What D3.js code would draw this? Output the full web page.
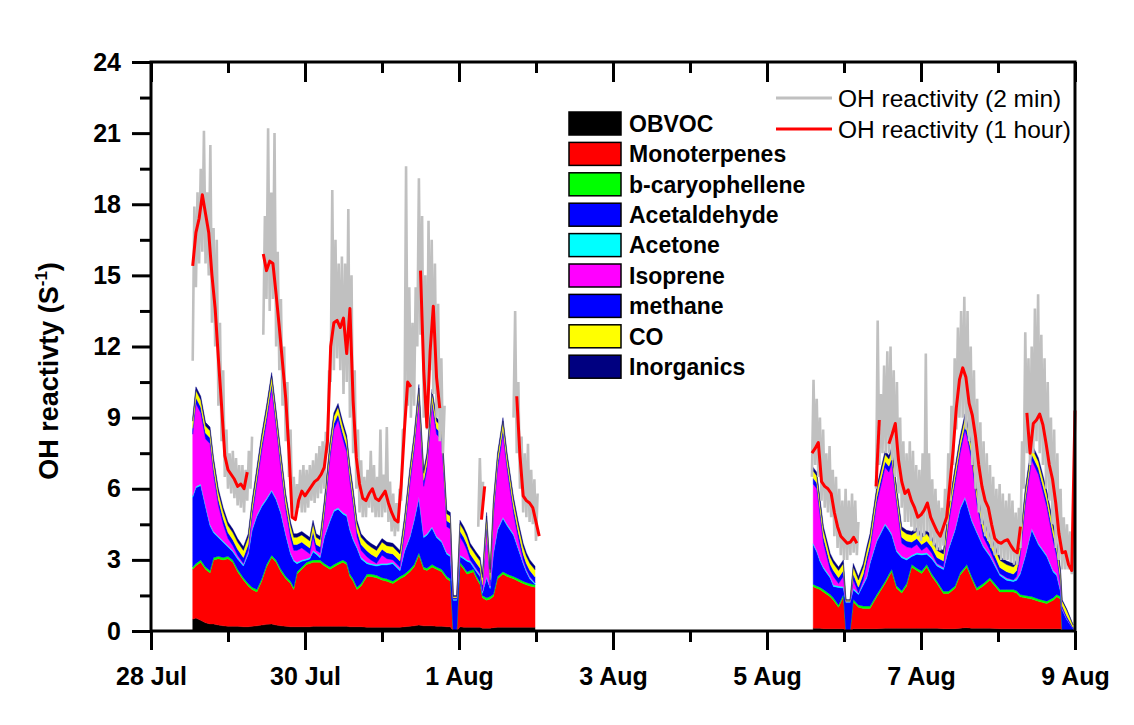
<!DOCTYPE html>
<html>
<head>
<meta charset="utf-8">
<script src="https://cdn.jsdelivr.net/npm/d3@7"></script>
<style>
  body { margin: 0; background: #fff; }
  svg { display: block; font-family: "Liberation Sans", Arial, sans-serif; }
</style>
</head>
<body>
<svg id="chart" width="1134" height="725"></svg>
<script>
// all times are hours after 28 Jul 00:00

// ---- stacked contributions (s-1) ----
const stackHours = [
  13, 14, 15.5, 17, 18.4, 19.5, 21, 22.5, 24, 25.5,
  27, 28.8, 30.3, 31.5, 33, 34.5, 36, 37.6, 39, 40.5,
  42, 43.5, 44.5, 45.5, 47, 48.5, 49.5, 50.5, 51.5, 52.7,
  54, 55.8, 57, 58.3, 59.8, 61, 62, 63, 64.2, 65.5,
  67.3, 68.5, 70.3, 72, 73.5, 75.4, 77.6, 79, 80.7, 82,
  83.5, 85, 86, 87.6, 89, 90.6, 92.2, 93.3, 94.2, 95.3,
  96.3, 97.5, 98.5, 99.5, 100.5, 101.5, 102.6, 103.3, 104.6, 105.7,
  106.7, 108, 109.7, 111, 113, 114.5, 116, 117, 118.1, 119.7,
  206.4, 207.5, 208.5, 209.6, 211.7, 212.7, 214.3, 215.8, 216.6, 217.9,
  218.9, 220.5, 222, 223.1, 224.1, 226.2, 228.8, 230, 230.9, 232.4,
  234, 235.5, 237.1, 238.7, 240.2, 241.8, 243.4, 245, 247, 248.6,
  250.6, 252.2, 253.7, 254.3, 255.8, 257.4, 259.4, 261.5, 264.6, 266.7,
  268.8, 269.8, 270.9, 272.5, 274.5, 276.6, 279.2, 281.2, 282.3, 283.5,
  284, 285.4, 287.4
];
const obvoc = [
  .5, .55, .45, .35, .3, .3, .25, .22, .2, .2,
  .2, .18, .18, .2, .22, .25, .28, .3, .25, .22,
  .2, .18, .18, .18, .18, .18, .18, .2, .2, .2,
  .2, .2, .2, .2, .2, .2, .18, .18, .18, .18,
  .16, .16, .16, .16, .16, .16, .16, .18, .2, .22,
  .25, .22, .22, .22, .2, .2, .18, .18, 0, 0,
  .18, .16, .16, .16, .16, .16, .16, .12, .12, .12,
  .14, .16, .16, .16, .16, .16, .16, .16, .16, .16,
  .12, .12, .12, .1, .1, .1, .1, .1, 0, 0,
  .1, .1, .1, .1, .1, .1, .12, .12, .12, .12,
  .12, .12, .12, .12, .12, .12, .12, .12, .1, .1,
  .1, .12, .14, .14, .12, .12, .12, .12, .1, .1,
  .1, .1, .1, .1, .1, .1, .1, .1, .1, .1,
  0, 0, 0
];
const monoterpenes = [
  2.1, 2.2, 2.45, 2.25, 2.15, 2.7, 2.8, 2.78, 2.85, 2.7,
  2.3, 1.97, 1.72, 1.55, 1.43, 1.85, 2.42, 2.8, 2.65, 2.28,
  2.0, 1.82, 1.57, 2.22, 2.42, 2.62, 2.67, 2.7, 2.7, 2.7,
  2.55, 2.4, 2.5, 2.6, 2.7, 2.6, 2.12, 1.92, 1.57, 1.72,
  2.14, 2.14, 2.09, 1.99, 1.94, 1.84, 2.04, 2.12, 2.3, 2.48,
  2.95, 2.38, 2.33, 2.48, 2.4, 2.3, 2.02, 1.92, 0, 0,
  2.62, 2.44, 2.24, 2.29, 2.34, 2.04, 1.79, 1.28, 1.18, 1.23,
  1.31, 2.04, 2.24, 2.14, 2.04, 1.94, 1.84, 1.79, 1.74, 1.69,
  1.75, 1.68, 1.63, 1.55, 1.34, 1.2, .9, 1.34, 0, 0,
  1.13, .9, .85, .85, .85, 1.34, 1.88, 2.18, 2.38, 1.68,
  1.48, 1.78, 2.58, 2.43, 2.31, 2.58, 2.18, 1.88, 1.48, 1.48,
  1.7, 2.24, 2.46, 2.56, 2.08, 1.6, 1.78, 2.03, 1.55, 1.55,
  1.55, 1.5, 1.34, 1.3, 1.25, 1.15, 1.06, 1.2, 1.34, 1.25,
  0, 0, 0
];
const bCaryophellene = [
  .1, .1, .1, .1, .1, .1, .1, .1, .1, .1,
  .1, .1, .1, .1, .1, .1, .1, .1, .1, .1,
  .1, .1, .1, .1, .1, .1, .1, .1, .1, .1,
  .1, .1, .1, .1, .1, .1, .1, .1, .1, .1,
  .1, .1, .1, .1, .1, .1, .1, .1, .1, .1,
  .1, .1, .1, .1, .1, .1, .1, .1, 0, 0,
  .1, .1, .1, .1, .1, .1, .1, .1, .1, .1,
  .1, .1, .1, .1, .1, .1, .1, .1, .1, .1,
  .1, .1, .1, .1, .1, .1, .1, .1, 0, 0,
  .1, .1, .1, .1, .1, .1, .1, .1, .1, .1,
  .1, .1, .1, .1, .1, .1, .1, .1, .1, .1,
  .1, .1, .1, .1, .1, .1, .1, .1, .1, .1,
  .1, .1, .1, .1, .1, .1, .1, .1, .1, .1,
  0, 0, 0
];
const acetaldehyde = [
  2.94, 3.19, 3.14, 2.54, 1.89, 1.04, .79, .64, .39, .34,
  .44, .49, 1.24, 2.39, 3.09, 3.04, 2.74, 2.69, 2.54, 2.34,
  1.74, 1.14, 1.09, .34, .24, .09, .09, .34, .24, .09,
  1.09, 1.94, 2.24, 2.24, 1.94, 1.94, 1.84, 1.64, 1.64, 1.04,
  .44, .39, .39, .54, .59, .74, .24, .94, 1.34, 1.84,
  2.29, 1.24, 1.39, 1.54, 1.24, 1.14, .94, .94, 1.3, 1.3,
  .24, .34, .44, .34, .09, .19, .24, .09, .84, .34,
  1.69, 1.94, 2.24, 2.04, 1.74, 1.24, .74, .44, .19, .02,
  1.67, 1.44, 1.09, .89, .7, .48, .74, .27, 1.2, 1.2,
  .41, .44, .89, 1.19, 1.79, 2.23, 2.37, 1.84, 1.44, 1.44,
  1.39, 1.0, .34, .59, .68, .44, .64, .64, .91, 1.76,
  2.34, 2.68, 2.89, 2.54, 2.34, 2.32, 1.54, .89, .59, .39,
  .34, .44, .85, 1.64, 2.81, 2.29, 1.88, 1.09, .8, .19,
  .9, .5, .1
];
const acetone = [
  .06, .06, .06, .06, .06, .06, .06, .06, .06, .06,
  .06, .06, .06, .06, .06, .06, .06, .06, .06, .06,
  .06, .06, .06, .06, .06, .06, .06, .06, .06, .06,
  .06, .06, .06, .06, .06, .06, .06, .06, .06, .06,
  .06, .06, .06, .06, .06, .06, .06, .06, .06, .06,
  .06, .06, .06, .06, .06, .06, .06, .06, .05, .05,
  .06, .06, .06, .06, .06, .06, .06, .06, .06, .06,
  .06, .06, .06, .06, .06, .06, .06, .06, .06, .06,
  .06, .06, .06, .06, .06, .06, .06, .06, .03, .03,
  .06, .06, .06, .06, .06, .06, .06, .06, .06, .06,
  .06, .06, .06, .06, .06, .06, .06, .06, .06, .06,
  .06, .06, .06, .06, .06, .06, .06, .06, .06, .06,
  .06, .06, .06, .06, .06, .06, .06, .06, .06, .06,
  .02, .02, 0
];
const isoprene = [
  2.6, 3.5, 3.0, 2.8, 3.4, 2.4, 1.3, .7, .3, .2,
  .1, .05, .1, .5, 1.3, 2.3, 3.2, 4.25, 3.0, 1.8,
  1.0, .6, .4, .5, .5, .3, .15, .57, .1, .15,
  .8, 2.6, 3.4, 3.7, 3.1, 2.65, 2.0, 1.4, .42, .3,
  .23, .15, .05, .35, .2, .1, .1, .7, 2.2, 2.9,
  4.05, 2.1, 2.7, 5.1, 4.3, 4.25, 1.1, 1.1, 0, 0,
  .77, .6, .4, .05, .05, .05, .05, .05, 2.0, .05,
  1.5, 2.5, 3.5, 2.3, .85, .4, .1, .05, .05, 0,
  2.5, 2.6, 1.9, 1.0, .27, .36, .1, .43, 0, 0,
  .35, 0, .15, .55, .5, 1.54, 2.37, 2.4, 2.96, 1.97,
  .55, .49, .3, .35, .13, .25, .17, .05, .05, 1.0,
  1.9, 2.3, 2.81, 2.8, 2.5, 1.17, .37, .2, .03, .05,
  0, .1, .68, 2.1, 2.88, 2.9, 2.04, 1.25, .73, .2,
  .05, .02, 0
];
const methane = [
  .25, .25, .25, .25, .25, .25, .25, .25, .25, .25,
  .25, .25, .25, .25, .25, .25, .25, .25, .25, .25,
  .25, .25, .25, .25, .25, .25, .25, .25, .25, .25,
  .25, .25, .25, .25, .25, .25, .25, .25, .25, .25,
  .25, .25, .25, .25, .25, .25, .25, .25, .25, .25,
  .25, .25, .25, .25, .25, .25, .25, .25, .05, .05,
  .25, .25, .25, .25, .25, .25, .25, .25, .25, .25,
  .25, .25, .25, .25, .25, .25, .25, .25, .25, .25,
  .25, .25, .25, .25, .25, .25, .25, .25, .02, .02,
  .25, .25, .25, .25, .25, .25, .25, .25, .25, .25,
  .25, .25, .25, .25, .25, .25, .25, .25, .25, .25,
  .25, .25, .25, .25, .25, .25, .25, .25, .25, .25,
  .25, .25, .25, .25, .25, .25, .25, .25, .25, .25,
  .1, .1, .05
];
const co = [
  .3, .3, .3, .3, .3, .3, .3, .3, .3, .3,
  .3, .3, .3, .3, .3, .3, .3, .3, .3, .3,
  .3, .3, .3, .3, .3, .3, .3, .3, .3, .3,
  .3, .3, .3, .3, .3, .3, .3, .3, .3, .3,
  .3, .3, .3, .3, .3, .3, .3, .3, .3, .3,
  .3, .3, .3, .3, .3, .3, .3, .3, .05, .05,
  .3, .3, .3, .3, .3, .3, .3, .3, .3, .3,
  .3, .3, .3, .3, .3, .3, .3, .3, .3, .3,
  .3, .3, .3, .3, .3, .3, .3, .3, .05, .05,
  .3, .3, .3, .3, .3, .3, .3, .3, .3, .3,
  .3, .3, .3, .3, .3, .3, .3, .3, .3, .3,
  .3, .3, .3, .3, .3, .3, .3, .3, .3, .3,
  .3, .3, .3, .3, .3, .3, .3, .3, .3, .3,
  .2, .25, .1
];
const inorganics = [
  .15, .15, .15, .15, .15, .15, .15, .15, .15, .15,
  .15, .15, .15, .15, .15, .15, .15, .15, .15, .15,
  .15, .15, .15, .15, .15, .15, .15, .15, .15, .15,
  .15, .15, .15, .15, .15, .15, .15, .15, .15, .15,
  .15, .15, .15, .15, .15, .15, .15, .15, .15, .15,
  .15, .15, .15, .15, .15, .15, .15, .15, .05, .05,
  .15, .15, .15, .15, .15, .15, .15, .15, .15, .15,
  .15, .15, .15, .15, .15, .15, .15, .15, .15, .15,
  .15, .15, .15, .15, .15, .15, .15, .15, .02, .02,
  .15, .15, .15, .15, .15, .15, .15, .15, .15, .15,
  .15, .15, .15, .15, .15, .15, .15, .15, .15, .15,
  .15, .15, .15, .15, .15, .15, .15, .15, .15, .15,
  .15, .15, .15, .15, .15, .15, .15, .15, .15, .15,
  .05, .05, .02
];

const speciesNames = ["OBVOC", "Monoterpenes", "b-caryophellene", "Acetaldehyde", "Acetone",
  "Isoprene", "methane", "CO", "Inorganics"];
const speciesColors = ["#000000", "#ff0000", "#00ff00", "#0000ff", "#00ffff",
  "#ff00ff", "#0000ff", "#ffff00", "#000080"];

// ---- measured OH reactivity, 1 hour averages (runs of hourly values) ----
const redStarts = [13, 35, 84, 103, 114, 206, 226, 230, 273];
const redRuns = [
  [15.4, 16.8, 17.4, 18.4, 17.6, 16.8, 15.0, 13.6, 11.5, 9.5, 7.4, 6.8, 6.6, 6.4, 6.1, 6.2, 6.0, 6.7],
  [15.9, 15.2, 15.6, 15.5, 14.2, 12.8, 11.3, 9.8, 7.6, 4.8,
   4.7, 5.5, 5.9, 5.7, 5.9, 6.1, 6.3, 6.4, 6.6, 6.9,
   8.0, 12.0, 13.0, 13.1, 12.8, 13.2, 11.7, 13.6, 9.7, 7.3,
   6.2, 5.6, 5.5, 5.8, 6.0, 5.6, 5.5, 5.7, 5.9, 5.4,
   5.0, 4.7, 4.6, 6.2, 8.5, 10.5, 10.3],
  [15.2, 11.0, 8.6, 11.8, 13.7, 10.7, 9.4],
  [4.7, 6.1],
  [9.9, 7.4, 5.7, 5.5, 5.4, 5.2, 4.6, 4.0],
  [7.5, 7.7, 7.95, 6.3, 6.1, 6.0, 5.8, 5.0, 4.4, 4.0, 3.85, 3.7, 3.75, 3.95, 3.7],
  [6.1, 8.9],
  [7.9, 8.3, 8.75, 7.2, 6.3, 5.8, 5.95, 5.5, 5.2, 4.8,
   4.9, 5.1, 5.4, 4.8, 4.5, 4.2, 4.0, 4.4, 4.8, 6.2,
   7.6, 9.4, 10.6, 11.1, 10.7, 9.6, 9.1, 8.2, 7.0, 6.1,
   5.5, 5.2, 4.5, 3.9, 3.75, 3.7, 3.8, 3.85, 3.6, 3.4,
   3.3, 4.4],
  [9.2, 7.5, 8.75, 8.9, 9.15, 8.7, 7.9, 7.0, 6.4, 5.4, 4.1, 3.3, 3.35, 2.8, 2.55, 9.3]
];

// ---- 2 min data, read as hourly low / high envelope of the grey trace ----
const grayStarts = [13, 35, 102, 113, 206, 226];
const grayLowRuns = [
  [11.4, 14.5, 15.5, 16, 15.5, 15, 13, 12, 9.5, 8, 6.5, 6, 5.8, 5.6, 5.3, 5.2, 5.0, 5.5, 6.0],
  [12.5, 14, 13.5, 14, 12, 11, 9.5, 8, 6.5, 5,
   4.8, 5.2, 5.0, 5.0, 5.2, 5.5, 5.4, 5.6, 5.8, 6.0,
   7.5, 10.5, 11, 11.5, 11, 10, 10.5, 9, 7.5, 6.0,
   5.0, 4.8, 4.8, 5.2, 5.0, 4.8, 4.8, 4.8, 5.0, 4.6,
   4.2, 4.0, 4.2, 5.5, 8.5, 9.5, 9, 9.5, 12, 12.5,
   9, 8.5, 11, 10, 9, 8, 7.5],
  [4.4, 4.8],
  [9.0, 7.5, 6.0, 5.0, 4.8, 4.6, 4.5, 3.8],
  [6.5, 7.0, 6.5, 5.5, 5.2, 5.0, 4.8, 4.0, 3.5, 3.2, 3.0, 3.0, 3.2, 3.3, 3.2],
  [6.0, 7.0, 7.5, 7.5, 7.5, 7.2, 6.5, 5.8, 5.2, 4.6,
   4.6, 4.4, 4.2, 4.0, 3.8, 4.0, 4.2, 3.8, 3.6, 3.4,
   3.4, 3.6, 4.5, 5.5, 7.0, 8.5, 9.0, 9.0, 8.5, 8.0,
   7.0, 6.0, 5.0, 4.5, 4.0, 3.8, 3.5, 3.2, 3.2, 3.0,
   3.0, 3.0, 2.9, 2.8, 2.8, 3.5, 6.0, 7.5, 7.0, 7.5,
   8.0, 7.5, 7.0, 6.0, 5.5, 4.5, 3.5, 3.0, 2.6, 2.6,
   2.6, 2.4]
];
const grayHighRuns = [
  [17.9, 18.5, 19.5, 21.1, 18.5, 20.5, 17, 16.5, 13, 11, 8.5, 7.5, 7.6, 7.3, 7.0, 7.0, 6.8, 7.6, 8.2],
  [17.5, 21.2, 18.5, 21.0, 16, 14, 12, 10.5, 8.5, 6.5,
   6.2, 6.8, 7.0, 6.8, 7.0, 7.2, 7.5, 7.8, 8.0, 8.4,
   11, 18.6, 16.5, 15.5, 15.8, 15.5, 17.8, 15, 11, 8.5,
   7.2, 6.5, 6.8, 7.6, 7.0, 6.5, 8.5, 6.6, 8.6, 6.3,
   5.8, 5.4, 6.0, 8.5, 19.6, 14.5, 13, 14.5, 19.1, 17.5,
   15, 17.3, 16.5, 15.5, 13.8, 11.5, 9.5],
  [7.3, 6.3],
  [13.5, 10.5, 8.2, 7.5, 7.9, 6.8, 6.4, 5.8],
  [10.6, 9.8, 9.0, 8.5, 7.5, 7.8, 6.8, 6.5, 6.0, 5.5, 6.0, 5.5, 5.8, 5.5, 4.6],
  [13.1, 10, 11.2, 11.8, 12.0, 11.0, 10.5, 9.0, 8.0, 7.5,
   8.0, 7.6, 7.0, 6.8, 7.5, 11.7, 7.5, 6.4, 6.0, 5.5,
   5.2, 6.0, 7.5, 9.5, 11.5, 12.8, 13.5, 14.1, 13.5, 12.0,
   11.0, 9.8, 8.8, 8.0, 7.5, 7.0, 6.5, 6.0, 6.2, 5.8,
   5.5, 5.8, 5.5, 5.0, 5.2, 8.0, 12.6, 11.5, 12.0, 13.6,
   14.2, 12.5, 11.5, 10.5, 9.0, 8.5, 7.5, 6.0, 4.8, 4.5,
   4.2, 4.0]
];

const yTicks = [0, 3, 6, 9, 12, 15, 18, 21, 24];
const yMinorTicks = [1.5, 4.5, 7.5, 10.5, 13.5, 16.5, 19.5, 22.5];
const lineLegend = ["OH reactivity (2 min)", "OH reactivity (1 hour)"];

// ------------------------------------------------------------------
const svg = d3.select("#chart");
const t0 = new Date(2012, 6, 28);
const t1 = new Date(2012, 7, 9);
const toDate = h => new Date(t0.getTime() + h * 3600e3);

const x = d3.scaleTime().domain([t0, t1]).range([151, 1075]);
const y = d3.scaleLinear().domain([0, 24]).range([631, 62]);

// split a sorted list of items into runs wherever the time step is too large
function splitRuns(items, gap) {
  const runs = [];
  let cur = [];
  items.forEach((d, i) => {
    if (i > 0 && d.h - items[i - 1].h > gap) { runs.push(cur); cur = []; }
    cur.push(d);
  });
  if (cur.length) runs.push(cur);
  return runs;
}

// stacked areas
const compArrays = [obvoc, monoterpenes, bCaryophellene, acetaldehyde, acetone, isoprene, methane, co, inorganics];
const rows = stackHours.map((h, i) => {
  const r = { h: h };
  speciesNames.forEach((k, j) => r[k] = compArrays[j][i]);
  return r;
});
const series = d3.stack().keys(speciesNames)(rows);

const area = d3.area()
  .x(d => x(toDate(d.data.h)))
  .y0(d => y(d[0]))
  .y1(d => y(d[1]));

const gStack = svg.append("g");
series.forEach((s, j) => {
  const pts = s.map(d => Object.assign(d, { h: d.data.h }));
  splitRuns(pts, 10).forEach(run => {
    gStack.append("path")
      .attr("d", area(run))
      .attr("fill", speciesColors[j])
      .attr("stroke", speciesColors[j])
      .attr("stroke-width", 0.4);
  });
});

const line = d3.line()
  .x(d => x(toDate(d.h)))
  .y(d => y(d.v));

// grey 2 min trace: zig-zag through the hourly low/high readings
grayStarts.forEach((start, r) => {
  const pts = [];
  grayLowRuns[r].forEach((lo, i) => {
    pts.push({ h: start + i, v: lo });
    pts.push({ h: start + i + 0.5, v: grayHighRuns[r][i] });
  });
  svg.append("path")
    .attr("d", line(pts))
    .attr("fill", "none")
    .attr("stroke", "#c0c0c0")
    .attr("stroke-width", 2.6)
    .attr("stroke-linejoin", "bevel");
});

// red 1 hour line
redStarts.forEach((start, r) => {
  const pts = redRuns[r].map((v, i) => ({ h: start + i, v: v }));
  svg.append("path")
    .attr("d", line(pts))
    .attr("fill", "none")
    .attr("stroke", "#ff0000")
    .attr("stroke-width", 3)
    .attr("stroke-linejoin", "round");
});

// ---- axes ----
const majorDays = d3.range(0, 13, 2).map(d => d3.timeDay.offset(t0, d));
const minorDays = d3.range(1, 13, 2).map(d => d3.timeDay.offset(t0, d));
const fmt = d3.timeFormat("%-d %b");

function styleAxis(g) {
  g.select(".domain").remove();
  g.selectAll(".tick line").attr("stroke", "#000").attr("stroke-width", 3);
  g.selectAll(".tick text")
    .attr("fill", "#000")
    .attr("font-size", 25)
    .attr("font-weight", "bold");
}

svg.append("g").attr("transform", "translate(0,631)")
  .call(d3.axisBottom(x).tickValues(majorDays).tickFormat(fmt).tickSize(19).tickPadding(17))
  .call(styleAxis);
svg.append("g").attr("transform", "translate(0,631)")
  .call(d3.axisBottom(x).tickValues(minorDays).tickFormat("").tickSize(11))
  .call(styleAxis);
// top axis: ticks point inwards
svg.append("g").attr("transform", "translate(0,62)")
  .call(d3.axisBottom(x).tickValues(majorDays).tickFormat("").tickSize(20))
  .call(styleAxis);
svg.append("g").attr("transform", "translate(0,62)")
  .call(d3.axisBottom(x).tickValues(minorDays).tickFormat("").tickSize(11))
  .call(styleAxis);

svg.append("g").attr("transform", "translate(151,0)")
  .call(d3.axisLeft(y).tickValues(yTicks).tickFormat(d3.format("d")).tickSize(19).tickPadding(11))
  .call(styleAxis);
svg.append("g").attr("transform", "translate(151,0)")
  .call(d3.axisLeft(y).tickValues(yMinorTicks).tickFormat("").tickSize(11))
  .call(styleAxis);

svg.append("rect")
  .attr("x", 151).attr("y", 62)
  .attr("width", 1075 - 151).attr("height", 631 - 62)
  .attr("fill", "none")
  .attr("stroke", "#000")
  .attr("stroke-width", 3);

// y title
const yt = svg.append("text")
  .attr("transform", "translate(58,371) rotate(-90)")
  .attr("text-anchor", "middle")
  .attr("font-size", 27)
  .attr("font-weight", "bold")
  .attr("fill", "#000");
yt.append("tspan").text("OH reactivty (S");
yt.append("tspan").text("-1").attr("font-size", 17).attr("dy", -11);
yt.append("tspan").text(")").attr("dy", 11);

// ---- legends ----
const leg = svg.append("g").attr("transform", "translate(569,112)");
speciesNames.forEach((name, i) => {
  const g = leg.append("g").attr("transform", `translate(0,${i * 30.4})`);
  g.append("rect")
    .attr("width", 52).attr("height", 23)
    .attr("fill", speciesColors[i])
    .attr("stroke", "#000").attr("stroke-width", 1.5);
  g.append("text")
    .attr("x", 60).attr("y", 11.5).attr("dy", "0.36em")
    .attr("font-size", 23).attr("font-weight", "bold")
    .attr("fill", "#000")
    .text(name);
});

const lineColors = ["#c0c0c0", "#ff0000"];
lineLegend.forEach((label, i) => {
  const yy = 98 + i * 31;
  svg.append("line")
    .attr("x1", 776).attr("x2", 832).attr("y1", yy).attr("y2", yy)
    .attr("stroke", lineColors[i]).attr("stroke-width", 3);
  svg.append("text")
    .attr("x", 838).attr("y", yy).attr("dy", "0.36em")
    .attr("font-size", 24.5)
    .attr("fill", "#000")
    .text(label);
});
</script>
</body>
</html>
